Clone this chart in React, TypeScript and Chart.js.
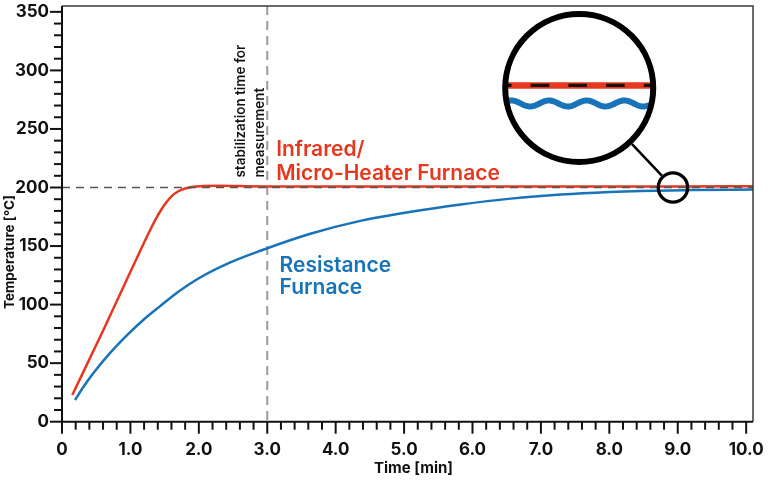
import React, { useEffect, useRef } from "react";
import { Chart, registerables } from "chart.js";

Chart.register(...registerables);

// ---- data ----
const irTime = [0.15, 0.61, 1.0, 1.2, 1.3, 1.38, 1.45, 1.52, 1.6, 1.7, 1.8, 1.9, 2.05, 2.3, 2.6, 3.0, 4.0, 5.0, 6.0, 7.0, 8.0, 9.0, 10.1];
const irTemp = [22.8, 79, 128, 153, 165, 174, 181, 187, 192.5, 196.8, 199.2, 200.5, 201.2, 201.5, 201.2, 200.9, 200.8, 200.8, 200.8, 200.8, 200.8, 200.9, 201];
const resTime = [0.19, 0.3, 0.46, 0.7, 0.97, 1.2, 1.43, 1.7, 2.0, 2.46, 2.9, 3.63, 4.36, 5.1, 5.83, 6.56, 7.29, 8.0, 8.46, 9.2, 10.1];
const resTemp = [18.5, 28.5, 41.5, 58.5, 75, 87.5, 98.5, 111, 122.5, 136, 146, 160.5, 171.5, 179.3, 185.5, 190.5, 194, 196.2, 197.1, 197.8, 198.3];

const xMajorTicks = [0, 1, 2, 3, 4, 5, 6, 7, 8, 9, 10];
const yMajorTicks = [0, 50, 100, 150, 200, 250, 300, 350];
const setpoint = 200;
const stabilizationTime = 3.0;

const X_MIN = 0;
const X_MAX = 10.1;
const Y_MIN = 0;
const Y_MAX = 355;

const RED = "#e5381f";
const BLUE = "#1873b8";
const FONT = "Inter, 'DejaVu Sans', sans-serif";

// annotation anchors (data coords)
const lensAnchor = { x: 7.56, y: 285 };
const spotAnchor = { x: 8.93, y: 200 };
const irLabelAnchor = { x: 3.13, y: 226.7 };
const resLabelAnchor = { x: 3.18, y: 128 };
const stabLabelY = 208.5;

const isMajor = (v: number) => Math.abs(v - Math.round(v)) < 1e-6;

const overlayPlugin = {
  id: "overlay",
  beforeDatasetsDraw(chart: any) {
    const { ctx, chartArea: a, scales } = chart;
    const x = scales.x;
    ctx.save();
    ctx.strokeStyle = "#9b9b9b";
    ctx.lineWidth = 2;
    ctx.setLineDash([9, 6]);
    const px = x.getPixelForValue(stabilizationTime);
    ctx.beginPath();
    ctx.moveTo(px, a.top);
    ctx.lineTo(px, a.bottom);
    ctx.stroke();
    ctx.restore();
  },
  afterDatasetsDraw(chart: any) {
    const { ctx, chartArea: a, scales } = chart;
    const x = scales.x;
    const y = scales.y;

    // setpoint dashed line
    ctx.save();
    ctx.strokeStyle = "#555";
    ctx.lineWidth = 1.3;
    ctx.setLineDash([8, 6]);
    const py = y.getPixelForValue(setpoint);
    ctx.beginPath();
    ctx.moveTo(a.left, py);
    ctx.lineTo(a.right, py);
    ctx.stroke();
    ctx.restore();

    // frame
    ctx.save();
    ctx.strokeStyle = "#3a3a3a";
    ctx.lineWidth = 1.5;
    ctx.beginPath();
    ctx.moveTo(a.left, a.top);
    ctx.lineTo(a.right, a.top);
    ctx.lineTo(a.right, a.bottom);
    ctx.stroke();
    ctx.strokeStyle = "#111";
    ctx.lineWidth = 2;
    ctx.beginPath();
    ctx.moveTo(a.left, a.top);
    ctx.lineTo(a.left, a.bottom);
    ctx.lineTo(a.right, a.bottom);
    ctx.stroke();

    // tick marks
    ctx.lineWidth = 2;
    x.ticks.forEach((t: any) => {
      const p = x.getPixelForValue(t.value);
      const len = isMajor(t.value) ? 12 : 8;
      ctx.beginPath();
      ctx.moveTo(p, a.bottom);
      ctx.lineTo(p, a.bottom + len);
      ctx.stroke();
    });
    y.ticks.forEach((t: any) => {
      const p = y.getPixelForValue(t.value);
      const len = t.value % 50 === 0 ? 12 : 8;
      ctx.beginPath();
      ctx.moveTo(a.left, p);
      ctx.lineTo(a.left - len, p);
      ctx.stroke();
    });
    ctx.restore();

    // axis titles
    ctx.save();
    ctx.fillStyle = "#111";
    ctx.font = `bold 15px ${FONT}`;
    ctx.textAlign = "center";
    ctx.textBaseline = "alphabetic";
    ctx.fillText("Time [min]", (a.left + a.right) / 2 + 6, 473);
    ctx.translate(14, 252);
    ctx.rotate(-Math.PI / 2);
    ctx.font = `bold 13.5px ${FONT}`;
    ctx.fillText("Temperature [°C]", 0, 0);
    ctx.restore();

    // stabilization label (rotated)
    ctx.save();
    const sx = x.getPixelForValue(stabilizationTime);
    const sy = y.getPixelForValue(stabLabelY);
    ctx.fillStyle = "#111";
    ctx.font = `600 13.5px ${FONT}`;
    ctx.textAlign = "left";
    ctx.textBaseline = "alphabetic";
    ctx.translate(sx - 22, sy);
    ctx.rotate(-Math.PI / 2);
    ctx.fillText("stabilization time for", 0, 0);
    ctx.fillText("measurement", 0, 18.5);
    ctx.restore();

    // series labels
    ctx.save();
    ctx.font = `600 21px ${FONT}`;
    ctx.textAlign = "left";
    ctx.textBaseline = "alphabetic";
    ctx.fillStyle = RED;
    let lx = x.getPixelForValue(irLabelAnchor.x);
    let ly = y.getPixelForValue(irLabelAnchor.y);
    ctx.fillText("Infrared/", lx, ly);
    ctx.fillText("Micro-Heater Furnace", lx, ly + 24);
    ctx.fillStyle = BLUE;
    lx = x.getPixelForValue(resLabelAnchor.x);
    ly = y.getPixelForValue(resLabelAnchor.y);
    ctx.fillText("Resistance", lx, ly);
    ctx.fillText("Furnace", lx, ly + 22.5);
    ctx.restore();

    // magnifier
    const bx = x.getPixelForValue(lensAnchor.x);
    const by = y.getPixelForValue(lensAnchor.y);
    const sx2 = x.getPixelForValue(spotAnchor.x);
    const sy2 = y.getPixelForValue(spotAnchor.y);
    const R = 74;
    const r = 14.7;
    ctx.save();
    ctx.beginPath();
    ctx.arc(bx, by, R, 0, Math.PI * 2);
    ctx.fillStyle = "#fff";
    ctx.fill();
    ctx.clip();
    // red line
    ctx.strokeStyle = RED;
    ctx.lineWidth = 6.5;
    ctx.beginPath();
    ctx.moveTo(bx - R, by - 2.5);
    ctx.lineTo(bx + R, by - 2.5);
    ctx.stroke();
    // black dashes
    ctx.strokeStyle = "#111";
    ctx.lineWidth = 3.2;
    ctx.setLineDash([18.5, 19.2]);
    ctx.lineDashOffset = 12.2;
    ctx.beginPath();
    ctx.moveTo(bx - R, by - 2.5);
    ctx.lineTo(bx + R, by - 2.5);
    ctx.stroke();
    ctx.setLineDash([]);
    // blue wave
    ctx.strokeStyle = BLUE;
    ctx.lineWidth = 6;
    ctx.beginPath();
    for (let i = 0; i <= 160; i++) {
      const wx = bx - R + (i / 160) * 2 * R;
      const wy = by + 15.5 + 3 * Math.cos(((wx - (bx - R) - 6) / 37.7) * Math.PI * 2 + Math.PI);
      if (i === 0) ctx.moveTo(wx, wy);
      else ctx.lineTo(wx, wy);
    }
    ctx.stroke();
    ctx.restore();

    ctx.save();
    ctx.strokeStyle = "#000";
    ctx.lineWidth = 6;
    ctx.beginPath();
    ctx.arc(bx, by, R, 0, Math.PI * 2);
    ctx.stroke();
    ctx.lineWidth = 3.3;
    ctx.beginPath();
    ctx.arc(sx2, sy2, r, 0, Math.PI * 2);
    ctx.stroke();
    const dx = sx2 - bx;
    const dy = sy2 - by;
    const d = Math.hypot(dx, dy);
    ctx.lineWidth = 2.5;
    ctx.beginPath();
    ctx.moveTo(bx + (dx / d) * (R + 3), by + (dy / d) * (R + 3));
    ctx.lineTo(sx2 - (dx / d) * (r + 1.5), sy2 - (dy / d) * (r + 1.5));
    ctx.stroke();
    ctx.restore();
  },
};

export default function App() {
  const canvasRef = useRef<HTMLCanvasElement | null>(null);

  useEffect(() => {
    if (!canvasRef.current) return;
    const chart = new Chart(canvasRef.current, {
      type: "line",
      data: {
        datasets: [
          {
            label: "Infrared/Micro-Heater Furnace",
            data: irTime.map((t, i) => ({ x: t, y: irTemp[i] })),
            borderColor: RED,
            borderWidth: 2.5,
            pointRadius: 0,
            cubicInterpolationMode: "monotone",
            fill: false,
          },
          {
            label: "Resistance Furnace",
            data: resTime.map((t, i) => ({ x: t, y: resTemp[i] })),
            borderColor: BLUE,
            borderWidth: 2.5,
            pointRadius: 0,
            cubicInterpolationMode: "monotone",
            fill: false,
          },
        ],
      },
      options: {
        animation: false,
        responsive: false,
        maintainAspectRatio: false,
        layout: { padding: { top: 6, right: 15, left: 0, bottom: 0 } },
        plugins: { legend: { display: false }, tooltip: { enabled: false } },
        scales: {
          x: {
            type: "linear",
            min: X_MIN,
            max: X_MAX,
            afterFit: (s: any) => {
              s.height = 63.3;
              s.paddingLeft = 0;
              s.paddingRight = 0;
            },
            border: { display: false },
            grid: { display: false, drawTicks: false },
            ticks: {
              stepSize: 0.2,
              includeBounds: false,
              autoSkip: false,
              maxRotation: 0,
              padding: 18,
              color: "#111",
              font: { family: FONT, size: 17, weight: "bold" },
              callback: (v: any) => {
                const n = Number(v);
                if (!isMajor(n)) return "";
                const m = Math.round(n);
                if (!xMajorTicks.includes(m)) return "";
                return m === 0 ? "0" : m.toFixed(1);
              },
            },
          },
          y: {
            type: "linear",
            min: Y_MIN,
            max: Y_MAX,
            afterFit: (s: any) => {
              s.width = 62;
              s.paddingTop = 0;
              s.paddingBottom = 0;
            },
            border: { display: false },
            grid: { display: false, drawTicks: false },
            ticks: {
              stepSize: 10,
              includeBounds: false,
              autoSkip: false,
              padding: 13,
              color: "#111",
              font: { family: FONT, size: 17, weight: "bold" },
              callback: (v: any) => {
                const n = Math.round(Number(v));
                return yMajorTicks.includes(n) ? String(n) : "";
              },
            },
          },
        },
      },
      plugins: [overlayPlugin],
    } as any);
    return () => chart.destroy();
  }, []);

  return (
    <div style={{ position: "fixed", left: 0, top: 0, width: 768, height: 485, background: "#fff" }}>
      <canvas ref={canvasRef} width={768} height={485} style={{ display: "block" }} />
    </div>
  );
}
